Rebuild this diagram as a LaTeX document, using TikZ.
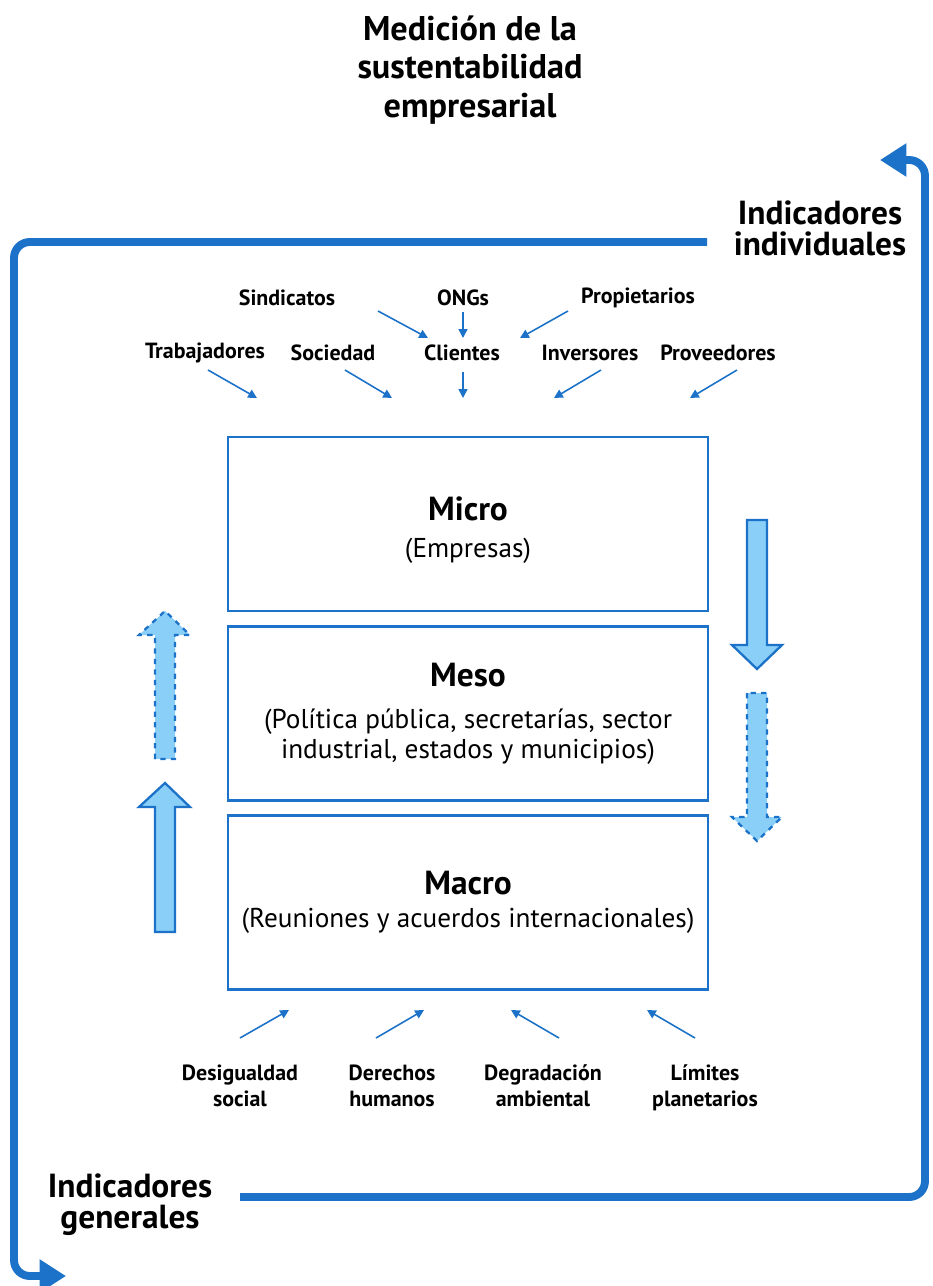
\documentclass[tikz,border=0pt]{standalone}
\usepackage{fontspec}
\setmainfont{PT Sans}
\usetikzlibrary{arrows.meta,positioning}
\definecolor{azul}{RGB}{28,114,200}
\definecolor{celeste}{RGB}{137,207,247}
\newcommand{\titnivel}[1]{{\bfseries\fontsize{19}{19}\selectfont #1}}

\begin{document}
\begin{tikzpicture}[x=0.02cm,y=-0.02cm,
  nivel/.style={draw=azul,line width=1.4pt,minimum width=9.6cm,minimum height=3.48cm,align=center,font=\fontsize{15.5}{17}\selectfont},
  actor/.style={font=\bfseries\fontsize{12.5}{14.7}\selectfont,align=center},
  flecha/.style={draw=azul,line width=0.9pt,-{Triangle[length=5pt,width=5pt]}},
  bucle/.style={draw=azul,line width=4.5pt,rounded corners=9pt},
  bloque/.style={draw=azul,fill=celeste,line width=1.3pt,line join=miter},
  indic/.style={font=\bfseries\fontsize{19}{17.5}\selectfont,align=center}]
		\useasboundingbox (0,0) rectangle (933,1286);
		% titulo
		\node[font=\bfseries\fontsize{19.5}{22}\selectfont,align=center] (titulo) at (470,70) {Medición de la\\sustentabilidad\\empresarial};
		% niveles
		\node[nivel] (micro) at (468,524) {\rule{0pt}{20pt}\titnivel{Micro}\\[4pt](Empresas)};
		\node[nivel] (meso) at (468,713.5) {\titnivel{Meso}\\[7pt](Política pública, secretarías, sector\\industrial, estados y municipios)};
		\node[nivel] (macro) at (468,902.5) {\titnivel{Macro}\\[2pt](Reuniones y acuerdos internacionales)};
		% bucle exterior
		\node[indic] (individ) at (820,228) {Indicadores\\individuales};
		\node[indic] (general) at (130,1205) {Indicadores\\generales};
		\coordinate (ini1) at (707,242);
		\coordinate (fin1) at (66,1276);
		\coordinate (ini2) at (240,1197);
		\coordinate (fin2) at (880,160);
		\draw[bucle,-{Triangle[length=15pt,width=18pt]}] (ini1) -- (14,242) -- (14,1276) -- (fin1);
		\draw[bucle,-{Triangle[length=15pt,width=18pt]}] (ini2) -- (925,1197) -- (925,160) -- (fin2);
		% actores
		\node[actor] (sind) at (287,298) {Sindicatos};
		\node[actor] (ong) at (463,298) {ONGs};
		\node[actor] (prop) at (638,298) {Propietarios};
		\node[actor] (trab) at (205,353) {Trabajadores};
		\node[actor] (soc) at (333,353) {Sociedad};
		\node[actor] (cli) at (462,353) {Clientes};
		\node[actor] (inv) at (590,353) {Inversores};
		\node[actor] (prov) at (718,353) {Proveedores};
		\draw[flecha](378,311)--(428,338);
		\draw[flecha](463,312)--(463,338);
		\draw[flecha](568,311)--(520,338);
		\draw[flecha](208,370)--(257,398);
		\draw[flecha](345,370)--(392,398);
		\draw[flecha](463,372)--(463,398);
		\draw[flecha](601,370)--(554,398);
		\draw[flecha](737,370)--(690,398);
		% problemas globales
		\node[actor] (desig) at (240,1086) {Desigualdad\\social};
		\node[actor] (dere) at (392,1086) {Derechos\\humanos};
		\node[actor] (degr) at (543,1086) {Degradación\\ambiental};
		\node[actor] (limi) at (705,1088) {Límites\\planetarios};
		\draw[flecha](240,1038)--(289,1010);
		\draw[flecha](376,1038)--(424,1010);
		\draw[flecha](559,1038)--(511,1010);
		\draw[flecha](695,1038)--(647,1010);
		% flechas de bloque
		\draw[bloque](155,932)--(155,807)--(139,807)--(165,783)--(190,807)--(175,807)--(175,932)--cycle;
		\draw[bloque,dashed](155,759)--(155,635)--(139,635)--(165,611)--(190,635)--(175,635)--(175,759)--cycle;
		\draw[bloque](747,520)--(747,645)--(732,645)--(757,669)--(782,645)--(767,645)--(767,520)--cycle;
		\draw[bloque,dashed](747,693)--(747,817)--(732,817)--(757,841)--(782,817)--(767,817)--(767,693)--cycle;
\end{tikzpicture}
\end{document}
